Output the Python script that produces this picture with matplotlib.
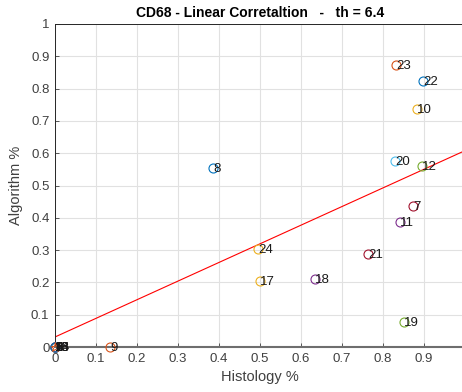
import numpy as np
import matplotlib
matplotlib.use('Agg')
import matplotlib.pyplot as plt

# Sample id, histology fraction, algorithm fraction
ids   = [1, 2, 3, 4, 5, 6, 7, 8, 9, 10, 11, 12,
         13, 14, 15, 16, 17, 18, 19, 20, 21, 22, 23, 24]
histo = [0.0, 0.0, 0.0, 0.0, 0.0, 0.0, 0.874, 0.385, 0.134, 0.883, 0.841, 0.895,
         0.0, 0.0, 0.0, 0.0, 0.500, 0.634, 0.851, 0.829, 0.763, 0.898, 0.832, 0.496]
algo  = [0.0, 0.0, 0.0, 0.0, 0.0, 0.0, 0.437, 0.553, 0.0, 0.737, 0.388, 0.560,
         0.0, 0.0, 0.0, 0.0, 0.205, 0.210, 0.078, 0.576, 0.287, 0.824, 0.873, 0.302]

# linear fit line (intercept, slope)
fit_b = 0.031
fit_m = 0.577

th = 6.4

# MATLAB default colour order
order = [(0, 0.447, 0.741), (0.85, 0.325, 0.098), (0.929, 0.694, 0.125),
         (0.494, 0.184, 0.556), (0.466, 0.674, 0.188), (0.301, 0.745, 0.933),
         (0.635, 0.078, 0.184)]

plt.rcParams['font.family'] = ['Liberation Sans', 'DejaVu Sans']

fig = plt.figure(figsize=(4.62, 3.92), dpi=100)
ax = fig.add_axes([55/462, 45/392, 410/462, 323/392])

for k in range(len(ids)):
    c = order[k % 7]
    mk = '*' if ids[k] == 16 else 'o'
    ax.plot(histo[k], algo[k], mk, mfc='none', mec=c, ms=6.5, mew=0.8, clip_on=False, zorder=3)
    ax.text(histo[k] + 0.001, algo[k] - 0.003, str(ids[k]), fontsize=9.5, color='#1a1a1a',
            va='center', ha='left', clip_on=False, zorder=4)

xx = np.array([0, 1.0])
ax.plot(xx, fit_b + fit_m*xx, color='red', lw=0.8, zorder=2)

ax.set_xlim(0, 1)
ax.set_ylim(0, 1)
ax.set_xticks(np.arange(0, 1.01, 0.1))
ax.set_yticks(np.arange(0, 1.01, 0.1))
# last x label falls outside the picture
ax.set_xticklabels(['0', '0.1', '0.2', '0.3', '0.4', '0.5', '0.6', '0.7', '0.8', '0.9', ''])
ax.set_yticklabels(['0', '0.1', '0.2', '0.3', '0.4', '0.5', '0.6', '0.7', '0.8', '0.9', '1'])
ax.grid(True, color='#e1e1e1', lw=0.8)
ax.set_axisbelow(True)
ax.tick_params(direction='in', length=3, labelsize=9.5, colors='#404040', width=0.6, pad=4)
for s in ax.spines.values():
    s.set_color('#262626')
    s.set_linewidth(0.7)
ax.spines['bottom'].set_color('#6e6e6e')
ax.spines['bottom'].set_linewidth(1.5)

ax.set_xlabel('Histology %', fontsize=10.5, color='#404040', labelpad=4)
ax.set_ylabel('Algorithm %', fontsize=10.5, color='#404040', labelpad=6)
ax.set_title('CD68 - Linear Corretaltion   -   th = ' + str(th), fontsize=10,
             fontweight='bold', color='black', pad=5)

plt.savefig('out.png', dpi=100)
